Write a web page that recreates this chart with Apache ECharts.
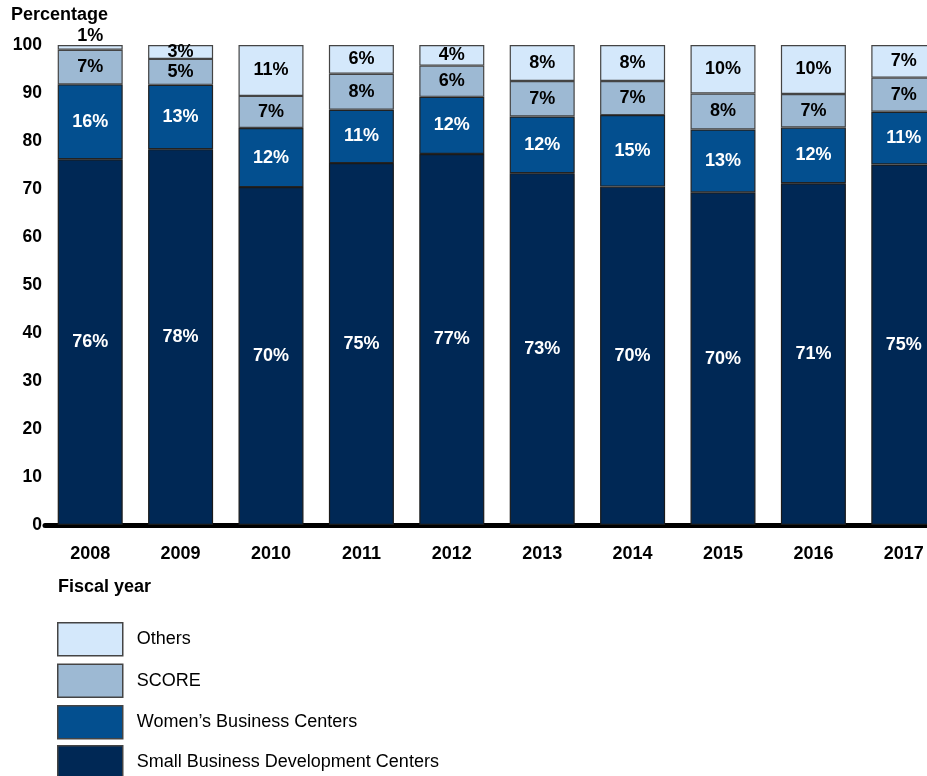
<!DOCTYPE html>
<html>
<head>
<meta charset="utf-8">
<script src="https://cdn.jsdelivr.net/npm/echarts@6/dist/echarts.min.js"></script>
<style>
  html, body { margin: 0; padding: 0; background: #fff; overflow: hidden; }
  /* 画布比窗口宽，最后一根柱子被裁掉一部分，与原图一致 */
  #chart { width: 949px; height: 776px; }
</style>
</head>
<body>
<div id="chart"></div>
<script>
    //年份
    var years = ['2008', '2009', '2010', '2011', '2012', '2013', '2014', '2015', '2016', '2017'];
    //柱高
    var sbdcValues = [76.2, 78.3, 70.4, 75.4, 77.3, 73.3, 70.5, 69.3, 71.2, 75.1];
    var wbcValues = [15.6, 13.4, 12.3, 11.1, 11.9, 11.8, 14.9, 13.1, 11.6, 11.0];
    var scoreValues = [7.2, 5.4, 6.7, 7.5, 6.5, 7.4, 7.1, 7.5, 7.0, 7.1];
    var othersValues = [1.0, 2.9, 10.6, 6.0, 4.3, 7.5, 7.5, 10.1, 10.2, 6.8];
    //标签文字
    var sbdcLabels = [76, 78, 70, 75, 77, 73, 70, 70, 71, 75];
    var wbcLabels = [16, 13, 12, 11, 12, 12, 15, 13, 12, 11];
    var scoreLabels = [7, 5, 7, 8, 6, 7, 7, 8, 7, 7];
    var othersLabels = [1, 3, 11, 6, 4, 8, 8, 10, 10, 7];
    var yTicks = [0, 10, 20, 30, 40, 50, 60, 70, 80, 90, 100];

    var FONT = '"Liberation Sans", Arial, sans-serif';
    var NAME_SBDC = 'Small Business Development Centers';
    var NAME_WBC = 'Women\u2019s Business Centers';

    var makeSeries = function (name, values, labels, fill, border, textColor) {
        var data = [];
        for (var i = 0; i < values.length; i++) {
            var item = { value: values[i] };
            //2008 Others 太窄，标签放在柱子上方
            if (name === 'Others' && values[i] < 2) {
                item.label = { position: 'top', distance: 0 };
            }
            data.push(item);
        }
        return {
            name: name,
            type: 'bar',
            stack: 'total',
            barWidth: 65,
            itemStyle: { color: fill, borderColor: border, borderWidth: 1.2 },
            label: {
                show: true,
                position: 'inside',
                color: textColor,
                fontFamily: FONT,
                fontWeight: 'bold',
                fontSize: 18,
                formatter: function (p) {
                    return labels[p.dataIndex] + '%';
                }
            },
            emphasis: { disabled: true },
            data: data
        };
    };

    //图例公共设置
    var legendBase = function (top, names) {
        return {
            orient: 'vertical',
            left: 57,
            top: top,
            padding: 0,
            itemWidth: 65,
            itemHeight: 33,
            itemGap: 7,
            icon: 'rect',
            selectedMode: false,
            itemStyle: { borderColor: '#444', borderWidth: 1.5 },
            textStyle: { fontFamily: FONT, fontSize: 18, color: '#000', padding: [0, 0, 0, 9] },
            data: names
        };
    };

    var chart = echarts.init(document.getElementById('chart'), null, { renderer: 'canvas' });
    var option = {
        animation: false,
        backgroundColor: '#fff',
        textStyle: { fontFamily: FONT },
        title: [{
            text: 'Percentage',
            left: 11,
            top: 6,
            padding: 0,
            textStyle: { fontFamily: FONT, fontWeight: 'bold', fontSize: 18, color: '#000' }
        }, {
            text: 'Fiscal year',
            left: 58,
            top: 578,
            padding: 0,
            textStyle: { fontFamily: FONT, fontWeight: 'bold', fontSize: 18, color: '#000' }
        }],
        legend: [
            legendBase(622, ['Others', 'SCORE', NAME_WBC]),
            legendBase(745, [NAME_SBDC])
        ],
        grid: {
            left: 45,
            top: 45,
            right: 0,
            bottom: 251
        },
        xAxis: {
            type: 'category',
            data: years,
            axisLine: { show: true, lineStyle: { color: '#000', width: 5 } },
            axisTick: { show: false },
            axisLabel: {
                margin: 20,
                color: '#000',
                fontFamily: FONT,
                fontWeight: 'bold',
                fontSize: 18
            }
        },
        yAxis: {
            type: 'value',
            min: yTicks[0],
            max: yTicks[yTicks.length - 1],
            interval: 10,
            axisLine: { show: false },
            axisTick: { show: false },
            splitLine: { show: false },
            axisLabel: {
                margin: 3,
                color: '#000',
                fontFamily: FONT,
                fontWeight: 'bold',
                fontSize: 17.5
            }
        },
        series: [
            makeSeries(NAME_SBDC, sbdcValues, sbdcLabels, '#002855', '#1a1a1a', '#fff'),
            makeSeries(NAME_WBC, wbcValues, wbcLabels, '#034f8f', '#222', '#fff'),
            makeSeries('SCORE', scoreValues, scoreLabels, '#9db9d3', '#444', '#000'),
            makeSeries('Others', othersValues, othersLabels, '#d4e8fb', '#444', '#000')
        ]
    };
    chart.setOption(option);
</script>
</body>
</html>
